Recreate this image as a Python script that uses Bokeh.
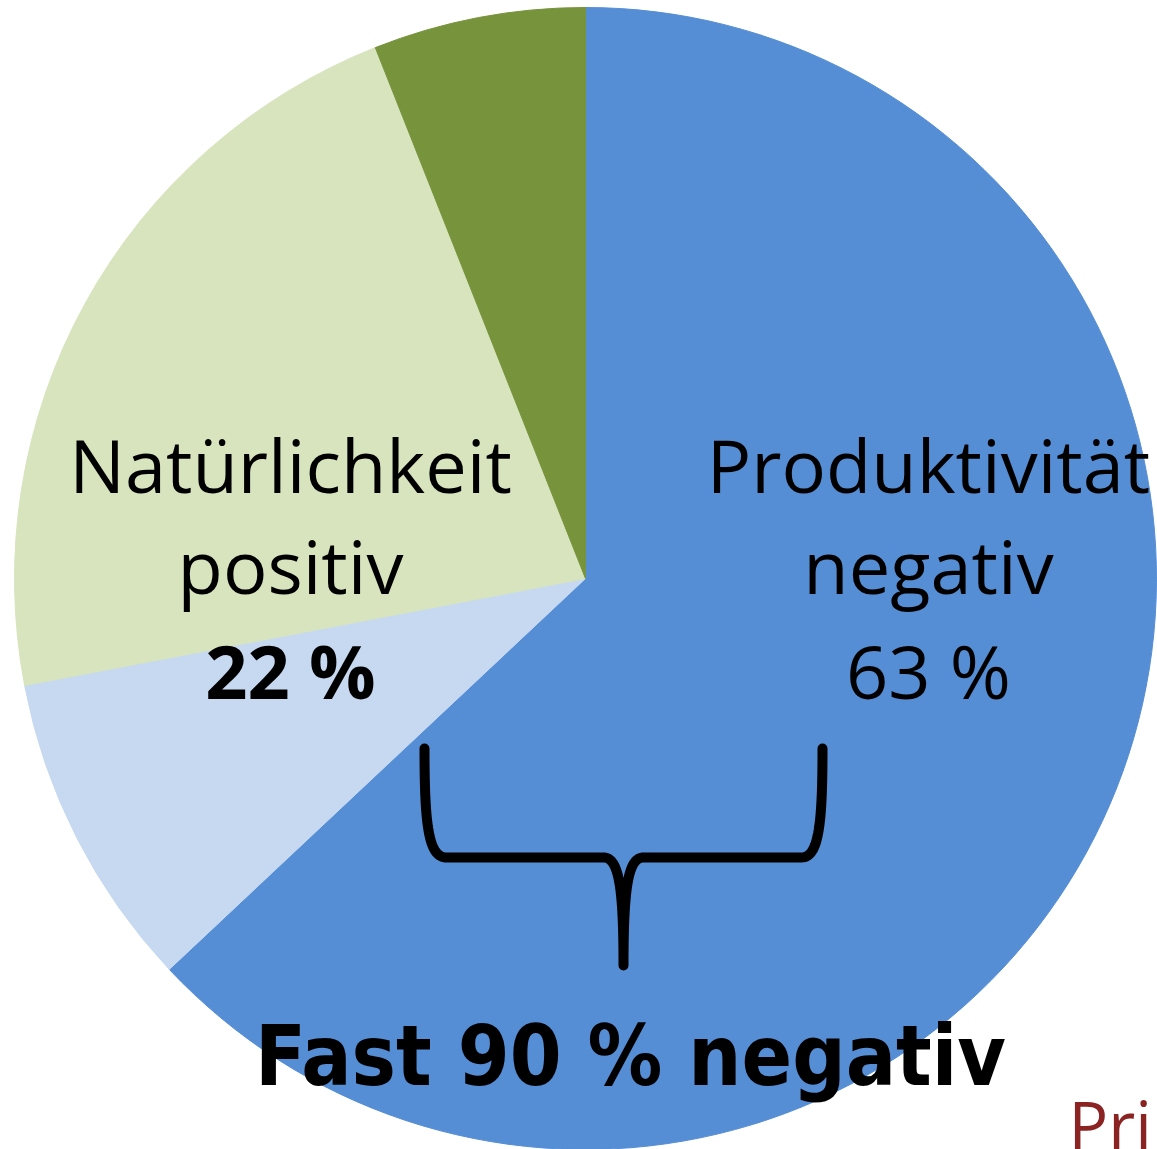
import numpy as np
from bokeh.plotting import figure
from bokeh.models import Range1d, ColumnDataSource
from bokeh.core.properties import value
from bokeh.embed import file_html
from bokeh.resources import INLINE

# ---- data ----
categories = ["Produktivität negativ", "Produktivität positiv", "Natürlichkeit positiv", "Natürlichkeit negativ"]
shares = [63, 9, 22, 6]
colors = ["#558ED5", "#C6D9F1", "#D7E4BD", "#77933C"]

label_lines_left = ["Natürlichkeit", "positiv", "22 %"]
label_lines_right = ["Produktivität", "negativ", "63 %"]
summary_text = "Fast 90 % negativ"
corner_text = "Pri"

# ---- layout (data coords: X = screen x, Y = 1149 - screen y) ----
W, H = 1157, 1149
def Y(sy):
    return H - sy

p = figure(width=W, height=H, x_range=Range1d(0, W), y_range=Range1d(0, H),
           output_backend="svg", toolbar_location=None, min_border=0)
p.axis.visible = False
p.grid.visible = False
p.outline_line_color = None
p.background_fill_color = "white"
p.border_fill_color = "white"

cx, cy, R = 585, Y(578), 571
vals = np.array(shares, dtype=float)
frac = vals / vals.sum()
cum_end = np.cumsum(frac)
cum_start = cum_end - frac
start_angles = np.deg2rad(90 - 360 * cum_end)
end_angles = np.deg2rad(90 - 360 * cum_start)
src = ColumnDataSource(dict(cat=categories, start=start_angles, end=end_angles, color=colors))
p.wedge(x=cx, y=cy, radius=R, start_angle="start", end_angle="end", direction="anticlock",
        fill_color="color", line_color="color", line_width=1, source=src)

# ---- labels ----
font = value("Open Sans")
fs = 74
off = 0.38 * fs
base_ys = [Y(492 - off), Y(593 - off), Y(698 - off)]
p.text(x=[290, 290], y=base_ys[:2], text=label_lines_left[:2], text_font=font, text_font_size=f"{fs}px",
       text_align="center", text_baseline="alphabetic", text_color="black")
p.text(x=[290], y=[base_ys[2]], text=[label_lines_left[2]], text_font=font, text_font_size=f"{fs}px",
       text_font_style="bold", text_align="center", text_baseline="alphabetic", text_color="black")
p.text(x=[928] * 3, y=base_ys, text=label_lines_right, text_font=font, text_font_size=f"{fs}px",
       text_align="center", text_baseline="alphabetic", text_color="black")

fs2 = 83
p.text(x=[630], y=[Y(1085 - 0.35 * fs2)], text=[summary_text],
       text_font=value("DejaVu Sans Condensed"),
       text_font_size=f"{fs2}px", text_font_style="bold", text_align="center",
       text_baseline="alphabetic", text_color="black")

fs3 = 66
p.text(x=[1068], y=[Y(1148 - 0.38 * fs3)], text=[corner_text], text_font=font, text_font_size=f"{fs3}px",
       text_align="left", text_baseline="alphabetic", text_color="#8B2323")

# ---- brace ----
def cubic(p0, p1, p2, p3, n=30):
    t = np.linspace(0, 1, n)[:, None]
    pts = ((1 - t) ** 3) * np.array(p0) + 3 * ((1 - t) ** 2) * t * np.array(p1) \
        + 3 * (1 - t) * t ** 2 * np.array(p2) + t ** 3 * np.array(p3)
    return pts

segs = [
    cubic((424, 748), (424, 825), (428, 857), (446, 857)),
    cubic((446, 857), (500, 857), (550, 857), (603, 857)),
    cubic((603, 857), (618, 857), (623, 885), (623, 965)),
    cubic((623, 965), (623, 885), (628, 857), (643, 857)),
    cubic((643, 857), (700, 857), (750, 857), (801, 857)),
    cubic((801, 857), (818, 857), (822, 825), (822, 748)),
]
pts = np.vstack(segs)
p.line(x=pts[:, 0], y=[Y(v) for v in pts[:, 1]], line_color="black", line_width=10,
       line_join="round", line_cap="round")

open("out.html", "w").write(file_html(p, INLINE))
